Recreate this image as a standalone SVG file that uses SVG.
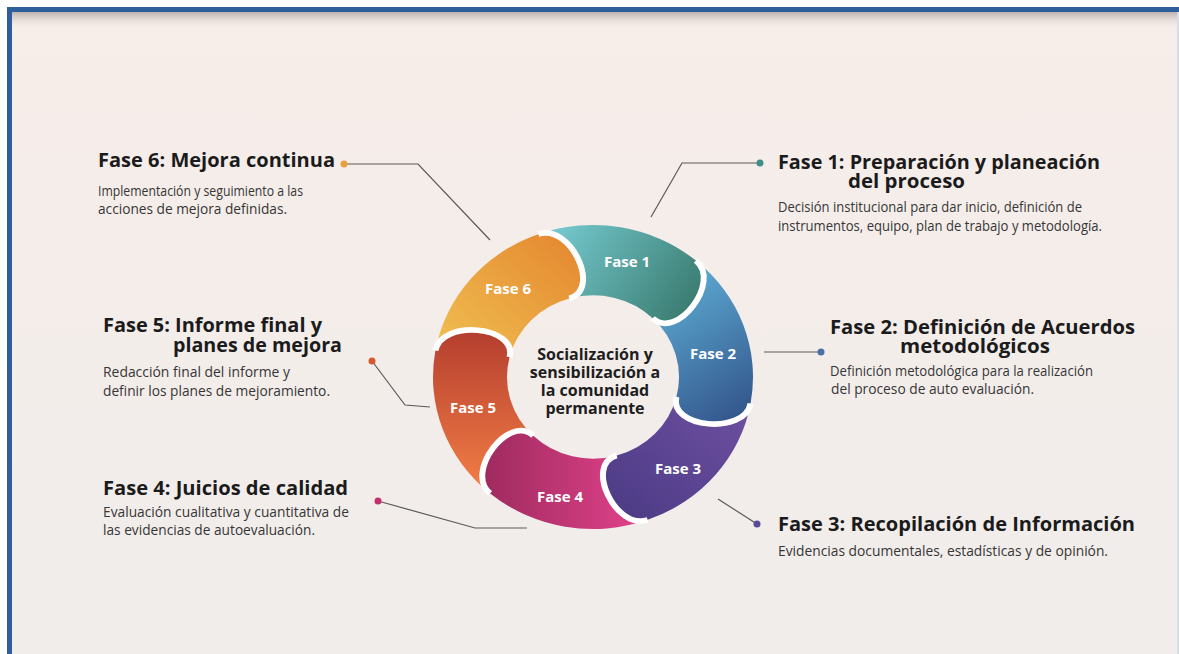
<svg xmlns="http://www.w3.org/2000/svg" width="1179" height="654" viewBox="0 0 1179 654">
  <defs>
    <style>
      .seg-label { font-family: "Open Sans", "DejaVu Sans", sans-serif; font-weight: 700; font-size: 15px; fill: #ffffff; text-anchor: middle; }
      .center-text { font-family: "Open Sans", "DejaVu Sans", sans-serif; font-weight: 700; font-size: 16px; fill: #1e1e1e; text-anchor: middle; }
      .head { font-family: "Open Sans", "DejaVu Sans", sans-serif; font-weight: 700; font-size: 20px; fill: #1b1b1b; }
      .body { font-family: "Open Sans", "DejaVu Sans", sans-serif; font-size: 14.5px; fill: #363636; }
      .conn { fill: none; stroke: #5a5a5a; stroke-width: 1.2; }
      .sep { fill: none; stroke: #ffffff; stroke-width: 6; stroke-linecap: butt; }
    </style>
    <linearGradient id="bgGrad" x1="0" y1="0" x2="0" y2="1">
      <stop offset="0" stop-color="#F7EDE9"/>
      <stop offset="1" stop-color="#F0EDEB"/>
    </linearGradient>
    <linearGradient id="shadowGrad" x1="0" y1="0" x2="0" y2="1">
      <stop offset="0" stop-color="#BFB3AE" stop-opacity="1"/>
      <stop offset="1" stop-color="#F6EDE9" stop-opacity="0"/>
    </linearGradient>
    <linearGradient id="g1" x1="0" y1="0.3" x2="1" y2="0.7">
      <stop offset="0" stop-color="#74C8CD"/>
      <stop offset="1" stop-color="#3A7B70"/>
    </linearGradient>
    <linearGradient id="g2" x1="0.3" y1="0" x2="0.7" y2="1">
      <stop offset="0" stop-color="#5FB0D8"/>
      <stop offset="1" stop-color="#34588D"/>
    </linearGradient>
    <linearGradient id="g3" x1="1" y1="0" x2="0" y2="1">
      <stop offset="0" stop-color="#6F50A1"/>
      <stop offset="1" stop-color="#4A3A84"/>
    </linearGradient>
    <linearGradient id="g4" x1="1" y1="0.5" x2="0" y2="0.5">
      <stop offset="0" stop-color="#E3438C"/>
      <stop offset="1" stop-color="#9E2A5E"/>
    </linearGradient>
    <linearGradient id="g5" x1="0.5" y1="1" x2="0.5" y2="0">
      <stop offset="0" stop-color="#F47F46"/>
      <stop offset="1" stop-color="#B43E2E"/>
    </linearGradient>
    <linearGradient id="g6" x1="0" y1="1" x2="1" y2="0">
      <stop offset="0" stop-color="#F0C152"/>
      <stop offset="1" stop-color="#E4852E"/>
    </linearGradient>
  </defs>

  <g id="background">
    <rect x="0" y="0" width="1179" height="654" fill="#ffffff"/>
    <rect x="12" y="12" width="1167" height="642" fill="url(#bgGrad)"/>
    <rect x="12" y="12" width="1167" height="18" fill="url(#shadowGrad)"/>
    <rect x="7" y="7" width="1172" height="5" fill="#2F5E9C"/>
    <rect x="7" y="7" width="5" height="647" fill="#2F5E9C"/>
    <rect x="1177" y="12" width="2" height="642" fill="#D6DEEA"/>
  </g>

  <g id="fase1">
    <path transform="translate(593 377) scale(1 0.95)" fill="url(#g1)" d="M -54.72 -150.35 A 160 160 0 0 1 102.85 -122.56 C 128.89 -100.70 84.20 -38.24 59.74 -61.86 A 86 86 0 0 0 -23.70 -82.67 C 8.98 -92.04 -22.77 -161.98 -54.72 -150.35 Z"/>
    <text class="seg-label" x="627" y="267">Fase 1</text>
  </g>
  <g id="fase2">
    <path transform="translate(593 377) scale(1 0.95)" fill="url(#g2)" d="M 102.85 -122.56 A 160 160 0 0 1 157.57 27.78 C 151.67 61.26 75.23 53.79 83.45 20.80 A 86 86 0 0 0 59.74 -61.86 C 84.20 -38.24 128.89 -100.70 102.85 -122.56 Z"/>
    <text class="seg-label" x="713" y="359">Fase 2</text>
  </g>
  <g id="fase3">
    <path transform="translate(593 377) scale(1 0.95)" fill="url(#g3)" d="M 157.57 27.78 A 160 160 0 0 1 54.72 150.35 C 22.77 161.98 -8.98 92.04 23.70 82.67 A 86 86 0 0 0 83.45 20.80 C 75.23 53.79 151.67 61.26 157.57 27.78 Z"/>
    <text class="seg-label" x="678" y="474">Fase 3</text>
  </g>
  <g id="fase4">
    <path transform="translate(593 377) scale(1 0.95)" fill="url(#g4)" d="M 54.72 150.35 A 160 160 0 0 1 -102.85 122.56 C -128.89 100.70 -84.20 38.24 -59.74 61.86 A 86 86 0 0 0 23.70 82.67 C -8.98 92.04 22.77 161.98 54.72 150.35 Z"/>
    <text class="seg-label" x="560" y="502">Fase 4</text>
  </g>
  <g id="fase5">
    <path transform="translate(593 377) scale(1 0.95)" fill="url(#g5)" d="M -102.85 122.56 A 160 160 0 0 1 -157.57 -27.78 C -151.67 -61.26 -75.23 -53.79 -83.45 -20.80 A 86 86 0 0 0 -59.74 61.86 C -84.20 38.24 -128.89 100.70 -102.85 122.56 Z"/>
    <text class="seg-label" x="473" y="413">Fase 5</text>
  </g>
  <g id="fase6">
    <path transform="translate(593 377) scale(1 0.95)" fill="url(#g6)" d="M -157.57 -27.78 A 160 160 0 0 1 -54.72 -150.35 C -22.77 -161.98 8.98 -92.04 -23.70 -82.67 A 86 86 0 0 0 -83.45 -20.80 C -75.23 -53.79 -151.67 -61.26 -157.57 -27.78 Z"/>
    <text class="seg-label" x="508" y="294">Fase 6</text>
  </g>

  <g id="ring-separators" transform="translate(593 377) scale(1 0.95)">
    <path class="sep" d="M -54.72 -150.35 C -22.77 -161.98 8.98 -92.04 -23.70 -82.67"/>
    <path class="sep" d="M 102.85 -122.56 C 128.89 -100.70 84.20 -38.24 59.74 -61.86"/>
    <path class="sep" d="M 157.57 27.78 C 151.67 61.26 75.23 53.79 83.45 20.80"/>
    <path class="sep" d="M 54.72 150.35 C 22.77 161.98 -8.98 92.04 23.70 82.67"/>
    <path class="sep" d="M -102.85 122.56 C -128.89 100.70 -84.20 38.24 -59.74 61.86"/>
    <path class="sep" d="M -157.57 -27.78 C -151.67 -61.26 -75.23 -53.79 -83.45 -20.80"/>
  </g>

  <g id="centro">
    <text class="center-text" x="595" y="360">Socialización y</text>
    <text class="center-text" x="595" y="378">sensibilización a</text>
    <text class="center-text" x="595" y="396">la comunidad</text>
    <text class="center-text" x="595" y="414">permanente</text>
  </g>

  <g id="connectors">
    <path class="conn" d="M344 164 H418 L490 240"/>
    <path class="conn" d="M760 163 H682 L651 217"/>
    <path class="conn" d="M764 352 H821"/>
    <path class="conn" d="M718 499 L757 524"/>
    <path class="conn" d="M372 361 L405 405 L430 407"/>
    <path class="conn" d="M378 501 L475 528 H527"/>
    <circle cx="344" cy="164" r="3.5" fill="#E9A040"/>
    <circle cx="760" cy="163" r="3.5" fill="#3F8E88"/>
    <circle cx="821" cy="352" r="3.5" fill="#4C6FA5"/>
    <circle cx="757" cy="524" r="3.5" fill="#5A4A98"/>
    <circle cx="372" cy="361" r="3.5" fill="#D9592F"/>
    <circle cx="378" cy="501" r="3.5" fill="#C4306E"/>
  </g>

  <g id="desc-fase6">
    <text class="head" x="98" y="167" textLength="237" lengthAdjust="spacingAndGlyphs">Fase 6: Mejora continua</text>
    <text class="body" x="98" y="196" textLength="205" lengthAdjust="spacingAndGlyphs">Implementación y seguimiento a las</text>
    <text class="body" x="98" y="214" textLength="189" lengthAdjust="spacingAndGlyphs">acciones de mejora definidas.</text>
  </g>
  <g id="desc-fase1">
    <text class="head" x="778" y="169" textLength="322" lengthAdjust="spacingAndGlyphs">Fase 1: Preparación y planeación</text>
    <text class="head" x="848" y="188" textLength="117" lengthAdjust="spacingAndGlyphs">del proceso</text>
    <text class="body" x="778" y="212" textLength="304" lengthAdjust="spacingAndGlyphs">Decisión institucional para dar inicio, definición de</text>
    <text class="body" x="778" y="231" textLength="324" lengthAdjust="spacingAndGlyphs">instrumentos, equipo, plan de trabajo y metodología.</text>
  </g>
  <g id="desc-fase2">
    <text class="head" x="830" y="334" textLength="305" lengthAdjust="spacingAndGlyphs">Fase 2: Definición de Acuerdos</text>
    <text class="head" x="900" y="353" textLength="150" lengthAdjust="spacingAndGlyphs">metodológicos</text>
    <text class="body" x="830" y="376" textLength="263" lengthAdjust="spacingAndGlyphs">Definición metodológica para la realización</text>
    <text class="body" x="831" y="394" textLength="203" lengthAdjust="spacingAndGlyphs">del proceso de auto evaluación.</text>
  </g>
  <g id="desc-fase3">
    <text class="head" x="778" y="531" textLength="357" lengthAdjust="spacingAndGlyphs">Fase 3: Recopilación de Información</text>
    <text class="body" x="778" y="556" textLength="330" lengthAdjust="spacingAndGlyphs">Evidencias documentales, estadísticas y de opinión.</text>
  </g>
  <g id="desc-fase5">
    <text class="head" x="103" y="332" textLength="219" lengthAdjust="spacingAndGlyphs">Fase 5: Informe final y</text>
    <text class="head" x="173" y="352" textLength="169" lengthAdjust="spacingAndGlyphs">planes de mejora</text>
    <text class="body" x="103" y="377" textLength="187" lengthAdjust="spacingAndGlyphs">Redacción final del informe y</text>
    <text class="body" x="103" y="396" textLength="227" lengthAdjust="spacingAndGlyphs">definir los planes de mejoramiento.</text>
  </g>
  <g id="desc-fase4">
    <text class="head" x="103" y="495" textLength="245" lengthAdjust="spacingAndGlyphs">Fase 4: Juicios de calidad</text>
    <text class="body" x="103" y="517" textLength="246" lengthAdjust="spacingAndGlyphs">Evaluación cualitativa y cuantitativa de</text>
    <text class="body" x="103" y="535" textLength="212" lengthAdjust="spacingAndGlyphs">las evidencias de autoevaluación.</text>
  </g>
</svg>
